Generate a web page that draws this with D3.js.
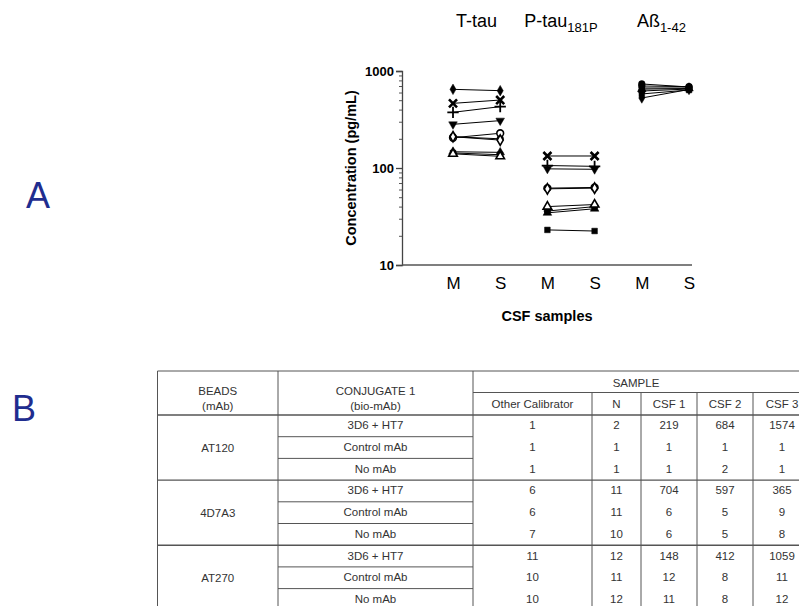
<!DOCTYPE html>
<html>
<head>
<meta charset="utf-8">
<script src="https://cdn.jsdelivr.net/npm/d3@7"></script>
<style>
  html, body { margin: 0; padding: 0; background: #fff; }
  svg { display: block; font-family: "Liberation Sans", Arial, sans-serif; }
</style>
</head>
<body>
<svg id="fig" width="799" height="606"></svg>
<script>
// ---------- Panel A data: CSF concentrations (pg/mL), M vs S sampling ----------
const analytes = ["T-tau", "P-tau181P", "Aß1-42"];
const sampleTypes = ["M", "S"];
const yTicks = [10, 100, 1000];

// marker per subject
const markerShapes = ["diamond", "times", "plus", "triangleDown", "circle", "circleOpen", "diamondOpen", "square", "triangle", "triangleOpen"];

const tTauM = [647, 464, 375, 282, 210, 205, 210, 143, 147, 140];
const tTauS = [627, 502, 429, 308, 200, 228, 194, 137, 145, 132];

const pTauM = [null, 133, 106, 98, 36, 62, 61, 23, 34.5, 40];
const pTauS = [null, 133, 104, 97, 40, 63, 62, 22.4, 38, 42];

const abM = [735, 668, 622, 580, 527, 700, 650, null, null, null];
const abS = [684, 668, 652, 637, 645, 690, 660, null, null, null];

// ---------- Panel B data: bead / conjugate specificity table ----------
const beads = ["AT120", "4D7A3", "AT270"];
const conjugates = ["3D6 + HT7", "Control mAb", "No mAb"];
const sampleCols = ["Other Calibrator", "N", "CSF 1", "CSF 2", "CSF 3"];
const tableValues = [
  [1, 2, 219, 684, 1574],
  [1, 1, 1, 1, 1],
  [1, 1, 1, 2, 1],
  [6, 11, 704, 597, 365],
  [6, 11, 6, 5, 9],
  [7, 10, 6, 5, 8],
  [11, 12, 148, 412, 1059],
  [10, 11, 12, 8, 11],
  [10, 12, 11, 8, 12]
];

const svg = d3.select("#fig");

// ---------- panel letters ----------
svg.append("text").attr("x", 38).attr("y", 208).attr("text-anchor", "middle")
  .attr("font-size", 36).attr("fill", "#1f2d8f").text("A");
svg.append("text").attr("x", 24).attr("y", 421).attr("text-anchor", "middle")
  .attr("font-size", 36).attr("fill", "#1f2d8f").text("B");

// ---------- Panel A ----------
const xKeys = [];
analytes.forEach(a => sampleTypes.forEach(s => xKeys.push(a + "|" + s)));
const x = d3.scalePoint().domain(xKeys).range([453, 689]);
const y = d3.scaleLog().domain([10, 1000]).range([265, 71]);
const axisLeftX = 402, axisRightX = 692;

const gA = svg.append("g");

// y axis with log minor ticks
const minorTicks = [];
for (let d = 10; d < 1000; d *= 10) for (let k = 2; k <= 9; k++) minorTicks.push(d * k);
gA.append("g").attr("transform", `translate(${axisLeftX},0)`)
  .call(d3.axisLeft(y).tickValues(minorTicks).tickSize(3).tickFormat(""))
  .call(g => g.select(".domain").remove())
  .call(g => g.selectAll("line").attr("stroke", "#555").attr("stroke-width", 1));
gA.append("g").attr("transform", `translate(${axisLeftX},0)`)
  .call(d3.axisLeft(y).tickValues(yTicks).tickSize(6).tickPadding(2).tickFormat(d3.format("d")))
  .call(g => g.select(".domain").attr("stroke", "#444").attr("stroke-width", 1.3))
  .call(g => g.selectAll("line").attr("stroke", "#444").attr("stroke-width", 1.3))
  .call(g => g.selectAll("text").attr("font-size", 13).attr("font-weight", "bold")
    .attr("font-family", "Liberation Sans, Arial, sans-serif").attr("fill", "#000"));

// x axis
gA.append("line").attr("x1", axisLeftX).attr("x2", axisRightX)
  .attr("y1", y(10)).attr("y2", y(10)).attr("stroke", "#555").attr("stroke-width", 1.3);
gA.append("g").attr("transform", `translate(0,${y(10)})`)
  .call(d3.axisBottom(x).tickSize(0).tickPadding(12).tickFormat(d => d.split("|")[1]))
  .call(g => g.select(".domain").remove())
  .call(g => g.selectAll("text").attr("font-size", 17)
    .attr("font-family", "Liberation Sans, Arial, sans-serif").attr("fill", "#000"));

// axis titles
gA.append("text").attr("transform", `translate(356,168) rotate(-90)`)
  .attr("text-anchor", "middle").attr("font-size", 14.5).attr("font-weight", "bold")
  .text("Concentration (pg/mL)");
gA.append("text").attr("x", 547).attr("y", 321).attr("text-anchor", "middle")
  .attr("font-size", 14.5).attr("font-weight", "bold").text("CSF samples");

// analyte headings with subscripts
const headingParts = [["T-tau", ""], ["P-tau", "181P"], ["Aß", "1-42"]];
const headingShift = [0, -10, -4];
analytes.forEach((a, i) => {
  const cx = (x(a + "|M") + x(a + "|S")) / 2 + headingShift[i];
  const t = gA.append("text").attr("x", cx).attr("y", 27).attr("text-anchor", "middle")
    .attr("font-size", 18);
  t.append("tspan").text(headingParts[i][0]);
  if (headingParts[i][1]) {
    t.append("tspan").attr("dy", 5).attr("font-size", 13).text(headingParts[i][1]);
  }
});

// marker drawing
function drawMarker(g, shape, cx, cy) {
  const open = shape.endsWith("Open");
  const base = shape.replace("Open", "");
  let type, size = 36, rot = 0, stroke = false;
  switch (base) {
    case "diamond": type = d3.symbolDiamond; size = 32; break;
    case "times": type = d3.symbolTimes; size = 44; stroke = true; break;
    case "plus": type = d3.symbolPlus; size = 44; stroke = true; break;
    case "triangleDown": type = d3.symbolTriangle; size = 32; rot = 180; break;
    case "triangle": type = d3.symbolTriangle; size = 32; break;
    case "square": type = d3.symbolSquare; size = 32; break;
    default: type = d3.symbolCircle; size = 36;
  }
  const p = g.append("path").attr("d", d3.symbol(type, size)())
    .attr("transform", `translate(${cx},${cy}) rotate(${rot})`);
  if (stroke) {
    p.attr("fill", "none").attr("stroke", "#000").attr("stroke-width", base === "times" ? 2.6 : 1.8);
  } else if (open) {
    p.attr("fill", "#fff").attr("stroke", "#000").attr("stroke-width", 1.6);
  } else {
    p.attr("fill", "#000").attr("stroke", "#000").attr("stroke-width", 0.5);
  }
}

const seriesByAnalyte = [[tTauM, tTauS], [pTauM, pTauS], [abM, abS]];
const abShapes = ["circle", "diamond", "circle", "square", "diamond", "circle", "triangle"];
analytes.forEach((a, i) => {
  const [mv, sv] = seriesByAnalyte[i];
  const gx = gA.append("g");
  mv.forEach((v, j) => {
    if (v == null || sv[j] == null) return;
    gx.append("line")
      .attr("x1", x(a + "|M")).attr("y1", y(v))
      .attr("x2", x(a + "|S")).attr("y2", y(sv[j]))
      .attr("stroke", "#000").attr("stroke-width", 1);
  });
  mv.forEach((v, j) => {
    if (v == null || sv[j] == null) return;
    const shape = i === 2 ? abShapes[j] : markerShapes[j];
    drawMarker(gx, shape, x(a + "|M"), y(v));
    drawMarker(gx, shape, x(a + "|S"), y(sv[j]));
  });
});

// ---------- Panel B: table ----------
const gB = svg.append("g").attr("font-size", 11.5).attr("fill", "#333");
const tableLeft = 157.5, tableTop = 371;
const colEdges = [157.5, 278, 473, 592, 641, 697, 753, 811];
const headerMid = 392.5, headerBottom = 415;
const rowH = 21.7;
const rowY = i => headerBottom + i * rowH;
const lineColor = "#555";

function hline(x1, x2, yy, w) {
  gB.append("line").attr("x1", x1).attr("x2", x2).attr("y1", yy).attr("y2", yy)
    .attr("stroke", lineColor).attr("stroke-width", w || 1);
}
function vline(xx, y1, y2, w) {
  gB.append("line").attr("x1", xx).attr("x2", xx).attr("y1", y1).attr("y2", y2)
    .attr("stroke", lineColor).attr("stroke-width", w || 1);
}
function cellText(cx, cy, txt) {
  gB.append("text").attr("x", cx).attr("y", cy).attr("text-anchor", "middle")
    .attr("dominant-baseline", "central").text(txt);
}

const tableBottom = rowY(tableValues.length);
// outer border and header lines
hline(tableLeft, 799, tableTop, 1);
vline(tableLeft, tableTop, tableBottom, 1);
hline(colEdges[2], 799, headerMid, 1);
hline(tableLeft, 799, headerBottom, 1.4);
vline(colEdges[1], tableTop, tableBottom, 1);
vline(colEdges[2], tableTop, tableBottom, 1);
for (let c = 3; c < colEdges.length - 1; c++) vline(colEdges[c], headerMid, tableBottom, 1);

// header text
cellText((colEdges[0] + colEdges[1]) / 2, 391, "BEADS");
cellText((colEdges[0] + colEdges[1]) / 2, 406, "(mAb)");
cellText((colEdges[1] + colEdges[2]) / 2, 391, "CONJUGATE 1");
cellText((colEdges[1] + colEdges[2]) / 2, 406, "(bio-mAb)");
cellText(636, 383, "SAMPLE");
sampleCols.forEach((s, c) => cellText((colEdges[c + 2] + colEdges[c + 3]) / 2, 404, s));

// body
tableValues.forEach((row, r) => {
  const cy = rowY(r) + rowH / 2 - 0.5;
  const gi = Math.floor(r / conjugates.length);
  const ci = r % conjugates.length;
  if (ci === 0) {
    if (r > 0) hline(tableLeft, 799, rowY(r), 1.4);
    cellText((colEdges[0] + colEdges[1]) / 2, rowY(r) + rowH * 1.5, beads[gi]);
  } else {
    hline(colEdges[1], colEdges[2], rowY(r), 1);
  }
  cellText((colEdges[1] + colEdges[2]) / 2, cy, conjugates[ci]);
  row.forEach((v, c) => cellText((colEdges[c + 2] + colEdges[c + 3]) / 2, cy, v));
});
</script>
</body>
</html>
